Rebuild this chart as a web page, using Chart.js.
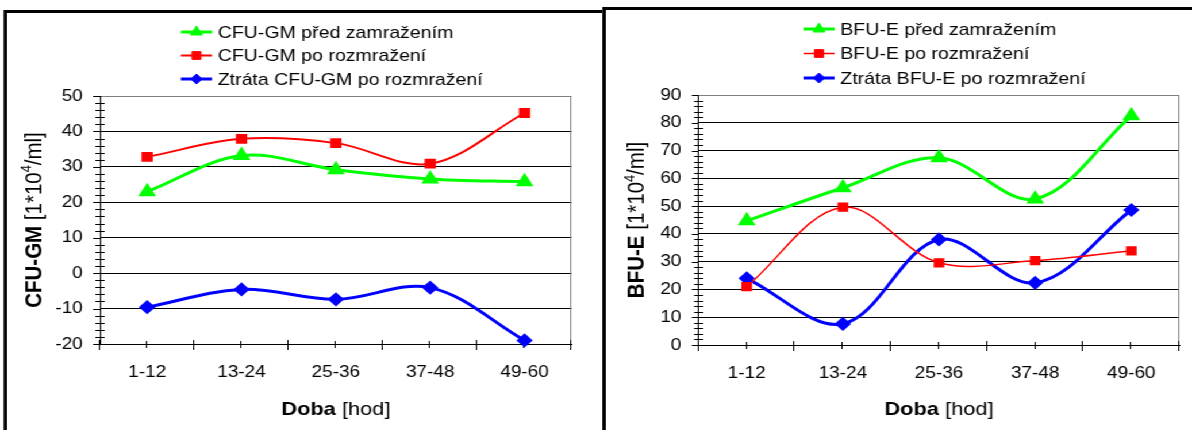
<!DOCTYPE html>
<html>
<head>
<meta charset="utf-8">
<script src="https://cdn.jsdelivr.net/npm/chart.js@4.4.0/dist/chart.umd.min.js"></script>
<style>
  html, body { margin: 0; padding: 0; background: #fff; overflow: hidden; }
  /* the reference is a bit wider than tall, so the whole stage is stretched horizontally */
  #stage { position: absolute; left: 0; top: 0; width: 1037px; height: 440px;
           transform: scaleX(1.1495); transform-origin: 0 0; }
  .box { position: absolute; box-sizing: border-box; border: 3px solid #000; background: #fff; height: 440px; }
  #boxL { left: 3px; top: 10px; width: 524px; }
  #boxR { left: 524px; top: 7px; width: 530px; }
  .wrap { position: absolute; left: 0; top: 0; height: 420px; }
</style>
</head>
<body>
<div id="stage">
  <div class="box" id="boxL"><div class="wrap" style="width:518px"><canvas id="chartL"></canvas></div></div>
  <div class="box" id="boxR"><div class="wrap" style="width:520px"><canvas id="chartR"></canvas></div></div>
</div>
<script>
// ── data ───────────────────────────────────────────────
const categories = ['1-12', '13-24', '25-36', '37-48', '49-60'];

// CFU-GM [1*10^4/ml]
const cfuPred   = [23.0, 33.2, 29.2, 26.6, 25.8];
const cfuPo     = [32.8, 37.9, 36.7, 30.9, 45.2];
const cfuZtrata = [-9.6, -4.6, -7.4, -4.1, -19.0];
const cfuTicks  = { min: -20, max: 50 };

// BFU-E [1*10^4/ml]
const bfuPred   = [44.7, 56.6, 67.4, 52.6, 82.5];
const bfuPo     = [21.0, 49.6, 29.6, 30.4, 33.9];
const bfuZtrata = [24.0, 7.6, 38.0, 22.4, 48.6];
const bfuTicks  = { min: 0, max: 90 };

const cfuLabels = ['CFU-GM před zamražením', 'CFU-GM po rozmražení', 'Ztráta CFU-GM po rozmražení'];
const bfuLabels = ['BFU-E před zamražením', 'BFU-E po rozmražení', 'Ztráta BFU-E po rozmražení'];

const xTitle   = [{ t: 'Doba', b: true }, { t: ' [hod]' }];
const cfuTitle = [{ t: 'CFU-GM', b: true }, { t: ' [1*10' }, { t: '4', sup: true }, { t: '/ml]' }];
const bfuTitle = [{ t: 'BFU-E', b: true }, { t: ' [1*10' }, { t: '4', sup: true }, { t: '/ml]' }];

// ── helpers ────────────────────────────────────────────
const FONT = "'Liberation Sans', Arial, sans-serif";
const GREEN = '#00ff00', RED = '#ff0000', BLUE = '#0000ff';

function marker(ctx, style, r, x, y) {
    ctx.beginPath();
    if (style === 'triangle') {
        ctx.moveTo(x, y - r);
        ctx.lineTo(x + r * 0.866, y + r * 0.5);
        ctx.lineTo(x - r * 0.866, y + r * 0.5);
    } else if (style === 'rect') {
        const s = r * Math.SQRT1_2;
        ctx.rect(x - s, y - s, 2 * s, 2 * s);
    } else {
        ctx.moveTo(x - r, y); ctx.lineTo(x, y - r); ctx.lineTo(x + r, y); ctx.lineTo(x, y + r);
    }
    ctx.closePath();
    ctx.fill();
    ctx.lineWidth = 1;
    ctx.stroke();
}

function runs(ctx, parts, size, cx, cy, rot) {
    const fontOf = (p) => (p.b ? 'bold ' : '') + (p.sup ? size * 0.62 : size) + 'px ' + FONT;
    let w = 0;
    parts.forEach((p) => { ctx.font = fontOf(p); p.w = ctx.measureText(p.t).width; w += p.w; });
    ctx.save();
    ctx.translate(cx, cy);
    if (rot) ctx.rotate(-Math.PI / 2);
    ctx.fillStyle = '#000';
    ctx.textBaseline = 'alphabetic';
    let x = -w / 2;
    parts.forEach((p) => {
        ctx.font = fontOf(p);
        ctx.fillText(p.t, x, p.sup ? -size * 0.05 : size * 0.36);
        x += p.w;
    });
    ctx.restore();
}

// excel-like frame, tick marks, legend and axis titles
const excelLook = {
    id: 'excelLook',
    beforeDatasetsDraw(chart, args, o) {
        const { ctx, chartArea: a, scales: { x, y } } = chart;
        ctx.save();
        ctx.strokeStyle = '#808080';
        ctx.lineWidth = 1;
        ctx.beginPath();
        ctx.moveTo(Math.round(a.right) - 0.5, a.top);
        ctx.lineTo(Math.round(a.right) - 0.5, a.bottom);
        ctx.stroke();

        ctx.strokeStyle = '#000';
        ctx.beginPath();
        y.ticks.forEach((t) => {
            const py = Math.round(y.getPixelForValue(t.value)) + 0.5;
            const major = t.value % 10 === 0;
            ctx.moveTo(a.left - (major ? 6 : 4), py);
            ctx.lineTo(a.left + (major ? 0 : 4), py);
        });
        const n = x.ticks.length;
        for (let i = 0; i <= n; i++) {
            const px = Math.round(i === 0 ? a.left : i === n ? a.right
                : (x.getPixelForValue(i - 1) + x.getPixelForValue(i)) / 2) - 0.5;
            ctx.moveTo(px, a.bottom - 4);
            ctx.lineTo(px, a.bottom + 6);
        }
        for (let i = 0; i < n; i++) {
            const px = Math.round(x.getPixelForValue(i)) - 0.5;
            ctx.moveTo(px, a.bottom - 3);
            ctx.lineTo(px, a.bottom + 4);
        }
        ctx.stroke();
        ctx.restore();
    },
    afterDraw(chart, args, o) {
        const { ctx, chartArea: a } = chart;
        ctx.save();
        chart.data.datasets.forEach((ds, i) => {
            const yy = o.legendTop + i * o.legendGap;
            const x0 = a.left + o.legendDx, x1 = x0 + 27;
            ctx.strokeStyle = ds.borderColor;
            ctx.fillStyle = ds.borderColor;
            ctx.lineWidth = ds.borderWidth;
            ctx.beginPath();
            ctx.moveTo(x0, yy); ctx.lineTo(x1, yy);
            ctx.stroke();
            marker(ctx, ds.pointStyle, ds.pointRadius, (x0 + x1) / 2, yy);
            ctx.fillStyle = '#000';
            ctx.font = '17px ' + FONT;
            ctx.textBaseline = 'middle';
            ctx.fillText(ds.label, x1 + 5, yy + 1);
        });
        ctx.restore();
        runs(ctx, o.yTitle, 20.5, o.yTitleX, (a.top + a.bottom) / 2, true);
        runs(ctx, xTitle, 19, (a.left + a.right) / 2, a.bottom + o.xTitleDy, false);
    },
};

function makeChart(id, names, pred, po, ztrata, range, redWidth, look, lay) {
    return new Chart(document.getElementById(id), {
        type: 'line',
        data: {
            labels: categories,
            datasets: [
                { label: names[0], data: pred, borderColor: GREEN, backgroundColor: GREEN, borderWidth: 3,
                  pointStyle: 'triangle', pointRadius: 6 },
                { label: names[1], data: po, borderColor: RED, backgroundColor: RED, borderWidth: redWidth,
                  pointStyle: 'rect', pointRadius: 5.5 },
                { label: names[2], data: ztrata, borderColor: BLUE, backgroundColor: BLUE, borderWidth: 3,
                  pointStyle: 'rectRot', pointRadius: 5 },
            ],
        },
        options: {
            responsive: true,
            maintainAspectRatio: false,
            animation: false,
            events: [],
            clip: false,
            elements: { line: { tension: 0.35 }, point: { borderWidth: 1 } },
            layout: { padding: { top: lay.top, right: lay.right, left: 0, bottom: 0 } },
            plugins: { legend: { display: false }, tooltip: { enabled: false }, excelLook: look },
            scales: {
                x: {
                    offset: true,
                    grid: { offset: true, drawOnChartArea: false, drawTicks: false },
                    border: { color: '#000', width: 1 },
                    ticks: { color: '#000', font: { family: FONT, size: 16.5 }, padding: 19, maxRotation: 0 },
                    afterFit: (s) => { s.height = lay.xh; },
                },
                y: {
                    min: range.min, max: range.max,
                    grid: {
                        drawTicks: false,
                        color: (c) => c.tick.value === range.max ? '#808080'
                            : (c.tick.value % 10 === 0 ? '#000' : 'rgba(0,0,0,0)'),
                    },
                    border: { color: '#000', width: 1 },
                    ticks: {
                        stepSize: 2, autoSkip: false, color: '#000', padding: 15,
                        font: { family: FONT, size: 16.5 },
                        callback: (v) => (v % 10 === 0 ? String(v) : ''),
                    },
                    afterFit: (s) => { s.width = lay.yw; },
                },
            },
        },
        plugins: [excelLook],
    });
}

makeChart('chartL', cfuLabels, cfuPred, cfuPo, cfuZtrata, cfuTicks, 2,
    { legendTop: 19, legendGap: 23.5, legendDx: 70.4, yTitle: cfuTitle, yTitleX: 22.3, xTitleDy: 64 },
    { top: 83, right: 26.6, yw: 81, xh: 89 });

makeChart('chartR', bfuLabels, bfuPred, bfuPo, bfuZtrata, bfuTicks, 1.5,
    { legendTop: 19, legendGap: 24.5, legendDx: 91.2, yTitle: bfuTitle, yTitleX: 26, xTitleDy: 63 },
    { top: 85, right: 21, yw: 80.8, xh: 85 });
</script>
</body>
</html>
